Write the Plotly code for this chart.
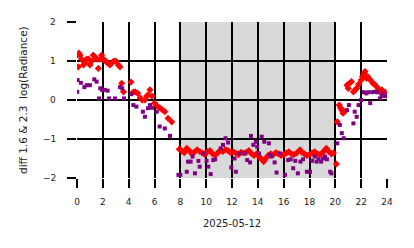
import plotly.graph_objects as go

# Red diamonds (diff 1.6)
red_h = [0.0, 0.1, 0.15, 0.23, 0.35, 0.5, 0.6, 0.75, 0.9, 1.0, 1.15, 1.26, 1.4, 1.55, 1.65, 1.8, 1.91, 2.05, 2.2, 2.35, 2.55, 2.7, 2.85, 3.0, 3.2, 3.33,
         3.46, 3.6, 4.18, 4.35, 4.5, 4.7, 4.9, 5.05, 5.26, 5.4, 5.5, 5.65, 5.8, 6.0, 6.2, 6.4, 6.6, 6.8, 7.05, 7.33,
         7.92, 8.1, 8.3, 8.5, 8.7, 8.9, 9.1, 9.3, 9.5, 9.7, 9.9, 10.1, 10.3, 10.5, 10.7, 10.9, 11.1, 11.3, 11.5, 11.7, 11.9,
         12.1, 12.3, 12.5, 12.7, 12.9, 13.1, 13.3, 13.5, 13.7, 13.9, 14.1, 14.3, 14.45, 14.6, 14.8, 15.0, 15.2, 15.4, 15.6,
         15.8, 16.0, 16.2, 16.4, 16.6, 16.8, 17.0, 17.26, 17.4, 17.6, 17.8, 18.0, 18.2, 18.4, 18.6, 18.8, 19.0, 19.15, 19.3,
         19.5, 19.7, 19.85, 20.08,
         20.15, 20.3, 20.4, 20.5, 20.6, 20.7, 20.9, 21.0, 21.1, 21.25, 21.4, 21.55, 21.65, 21.8, 22.0, 22.1, 22.2, 22.3, 22.4,
         22.5, 22.6, 22.75, 22.9, 23.05, 23.2, 23.35, 23.45, 23.6, 23.7, 23.85]
red_v = [1.15, 0.85, 1.2, 1.15, 1.05, 0.9, 0.95, 1.05, 1.05, 0.9, 1.0, 1.15, 1.1, 1.05, 0.81, 1.05, 1.15, 1.05, 1.0, 0.95, 0.9, 0.95, 1.0, 1.0, 0.9, 0.85,
         0.43, 0.21, 0.46, 0.2, 0.21, 0.17, 0.05, 0.0, 0.0, 0.1, 0.13, 0.26, 0.1, -0.08, -0.15, -0.2, -0.25, -0.3, -0.47, -0.56,
         -1.26, -1.3, -1.35, -1.24, -1.3, -1.38, -1.33, -1.28, -1.32, -1.36, -1.4, -1.32, -1.3, -1.38, -1.41, -1.35, -1.3, -1.32, -1.27, -1.3, -1.35,
         -1.33, -1.36, -1.4, -1.34, -1.36, -1.34, -1.3, -1.37, -1.42, -1.38, -1.45, -1.52, -1.58, -1.5, -1.42, -1.38, -1.4, -1.35, -1.38,
         -1.42, -1.4, -1.36, -1.33, -1.38, -1.4, -1.36, -1.28, -1.34, -1.38, -1.42, -1.4, -1.36, -1.33, -1.38, -1.4, -1.35, -1.3, -1.24,
         -1.32, -1.38, -1.36, -1.64,
         -0.56, -0.13, -0.2, -0.26, -0.34, -0.3, 0.38, 0.3, 0.43, 0.47, 0.21, 0.26, 0.3, 0.4, 0.51, 0.6, 0.68, 0.73, 0.56,
         0.6, 0.55, 0.5, 0.43, 0.4, 0.34, 0.28, 0.21, 0.26, 0.17, 0.2]

# Purple squares (diff 2.3)
pur_h = [0.02, 0.05, 0.3, 0.57, 0.75, 1.0, 1.34, 1.52, 1.7, 1.8, 1.95, 2.17, 2.37, 2.48, 2.94, 3.33, 3.5, 3.64, 4.18, 4.36, 4.6,
         5.1, 5.26, 5.5, 5.65, 5.8, 6.17, 6.4, 6.8, 7.2, 7.85, 8.0, 8.5, 8.6, 8.8, 8.95, 9.13, 9.4, 9.5, 9.78, 10.03, 10.16,
         10.35, 10.55, 10.7, 11.12, 11.3, 11.5, 11.7, 11.95, 12.2, 12.3, 12.6, 13.0, 13.18, 13.4, 13.47, 13.65, 13.85, 13.95,
         14.1, 14.3, 14.5, 14.86, 14.94, 15.05, 15.3, 15.45, 15.7, 16.1, 16.35, 16.55, 16.74, 16.9, 17.1, 17.3, 17.5, 17.8,
         18.04, 18.2, 18.4, 18.55, 18.7, 18.9, 19.05, 19.2, 19.35, 19.6, 19.7, 20.15, 20.35, 20.5, 20.65, 20.9, 21.05, 21.4,
         21.5, 21.65, 21.8, 22.0, 22.2, 22.4, 22.55, 22.7, 22.85, 23.06, 23.25, 23.45, 23.6, 23.7, 23.9]
pur_v = [0.21, 0.51, 0.44, 0.33, 0.38, 0.38, 0.53, 0.47, 0.04, 0.3, 0.26, 0.26, 0.24, 0.04, 0.04, 0.33, 0.3, 0.04, 0.15, -0.13, -0.17,
         -0.3, -0.43, -0.21, -0.13, -0.2, -0.3, -0.68, -0.73, -0.92, -1.92, -1.92, -1.84, -1.58, -1.58, -1.45, -1.88, -1.56, -1.71, -1.37, -1.56, -1.71,
         -1.9, -1.54, -1.52, -1.24, -1.15, -0.98, -1.09, -1.73, -1.5, -1.84, -1.37, -1.37, -1.54, -1.6, -0.92, -1.15, -1.07, -1.2,
         -1.37, -0.94, -1.07, -1.11, -1.41, -1.45, -1.6, -1.86, -1.37, -1.92, -1.54, -1.52, -1.75, -1.56, -1.88, -1.58, -1.52, -1.84,
         -1.84, -1.56, -1.45, -1.58, -1.52, -1.58, -1.5, -1.45, -1.52, -1.84, -1.88, -1.11, -0.64, -0.85, -0.98, -0.26, -0.13, -0.6,
         -0.3, -0.43, -0.13, 0.0, 0.2, 0.17, 0.2, -0.08, 0.2, 0.21, 0.2, 0.04, 0.1, 0.17, 0.1]

x_ticks = list(range(0, 25, 2))
y_ticks = [-2, -1, 0, 1, 2]
y_tick_text = ["\u22122", "\u22121", "0", "1", "2"]
night_start, night_end = 8, 20
x_title = "2025-05-12"
y_title = "diff 1.6 &amp; 2.3\u00a0 log(Radiance)"

fig = go.Figure()
fig.add_trace(go.Scatter(x=red_h, y=red_v, mode="markers",
                         marker=dict(symbol="diamond", size=5.5, color="#ff0000", line=dict(width=0)),
                         showlegend=False))
fig.add_trace(go.Scatter(x=pur_h, y=pur_v, mode="markers",
                         marker=dict(symbol="square", size=4, color="#800080", line=dict(width=0)),
                         showlegend=False))

fig.add_shape(type="rect", xref="x", yref="y", x0=night_start, x1=night_end, y0=-2, y1=2,
              fillcolor="#d9d9d9", line=dict(width=0), layer="below")

axis_common = dict(showgrid=True, gridcolor="black", gridwidth=2, zeroline=False,
                   ticks="outside", ticklen=9, tickwidth=2, tickcolor="black",
                   tickfont=dict(family="DejaVu Sans", size=9, color="#222"),
                   showline=False)
fig.update_xaxes(range=[0, 24], tickvals=x_ticks, ticktext=[str(t) for t in x_ticks],
                 ticklabelstandoff=6, **axis_common)
fig.update_yaxes(range=[-2, 2], tickvals=y_ticks, showticklabels=False, **axis_common)

for v, t in zip(y_ticks, y_tick_text):
    fig.add_annotation(text=t, xref="paper", yref="y", x=0, y=v, xshift=-19,
                       showarrow=False, font=dict(family="DejaVu Sans", size=9, color="#222"),
                       xanchor="right", yanchor="middle")

fig.add_annotation(text=x_title, xref="paper", yref="paper", x=0.5, y=0, yshift=-45,
                   showarrow=False, font=dict(family="DejaVu Sans", size=10, color="#222"),
                   xanchor="center", yanchor="middle")
fig.add_annotation(text=y_title, xref="paper", yref="paper", x=0, y=0.5, xshift=-54,
                   showarrow=False, textangle=-90, font=dict(family="DejaVu Sans", size=10.5, color="#222"),
                   xanchor="center", yanchor="middle")

fig.update_layout(width=414, height=248, margin=dict(l=77, r=27, t=22, b=70),
                  plot_bgcolor="white", paper_bgcolor="white")
fig.write_html("out.html")
